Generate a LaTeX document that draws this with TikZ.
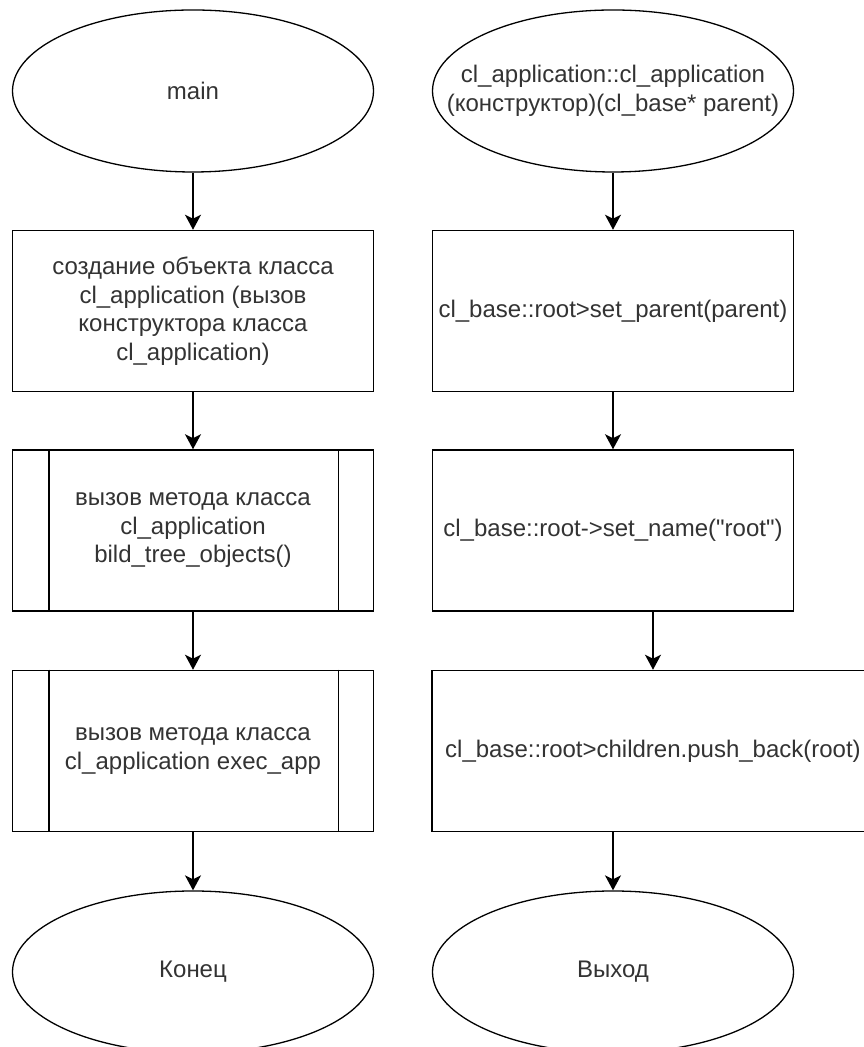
\documentclass[tikz,border=0pt]{standalone}
\usepackage{fontspec}
\newfontfamily\lsans{Liberation Sans}
\usetikzlibrary{shapes.geometric,arrows.meta}
\begin{document}
\begin{tikzpicture}[x=1pt,y=1pt,
  term/.style={ellipse, draw=black, line width=1.3pt, minimum width=361pt, minimum height=162pt, inner sep=0pt},
  proc/.style={rectangle, draw=black, line width=1.5pt, minimum width=361pt, minimum height=161pt, inner sep=0pt, align=center, font=\lsans\fontsize{24pt}{28.5pt}\selectfont, text=black!80},
  txt/.style={align=center, font=\lsans\fontsize{24pt}{28.5pt}\selectfont, text=black!80},
  subline/.style={draw=black, line width=1.5pt},
  flow/.style={-{Stealth[length=15pt,width=16pt,inset=4pt]}, line width=1.5pt}
]
\fill[white] (0,0) rectangle (863,1047);
\useasboundingbox (0,0) rectangle (863,1047);

% left column
\node[term] (main) at (193,956) {};
\node[txt] (maint) at (main.center) {main};
\node[proc] (b1) at (193,736) {создание объекта класса\\cl\_application (вызов\\конструктора класса\\cl\_application)};
\node[proc] (b2) at (193,516.5) {вызов метода класса\\cl\_application\\bild\_tree\_objects()};
\node[proc] (b3) at (193,296) {вызов метода класса\\cl\_application exec\_app};
\node[term] (end) at (193,75) {};
\node[txt] (endt) at (end.center) {Конец};

\draw[subline] ([xshift=37pt]b2.north west) -- ([xshift=37pt]b2.south west);
\draw[subline] ([xshift=-36pt]b2.north east) -- ([xshift=-36pt]b2.south east);
\draw[subline] ([xshift=37pt]b3.north west) -- ([xshift=37pt]b3.south west);
\draw[subline] ([xshift=-36pt]b3.north east) -- ([xshift=-36pt]b3.south east);

\draw[flow] (main.south) -- (b1.north);
\draw[flow] (b1.south) -- (b2.north);
\draw[flow] (b2.south) -- (b3.north);
\draw[flow] (b3.south) -- (end.north);

% right column
\node[term] (r0) at (613,956) {};
\node[txt] (r0t) at (r0.center) {cl\_application::cl\_application\\(конструктор)(cl\_base* parent)};
\node[proc] (r1) at (613,736) {cl\_base::root>set\_parent(parent)};
\node[proc] (r2) at (613,516.5) {cl\_base::root->set\_name("root")};
\node[proc, minimum width=442pt] (r3) at (653,296) {cl\_base::root>children.push\_back(root)};
\node[term] (r4) at (613,75) {};
\node[txt] (r4t) at (r4.center) {Выход};

\draw[flow] (r0.south) -- (r1.north);
\draw[flow] (r1.south) -- (r2.north);
\draw[flow] (r2.south -| r3.north) -- (r3.north);
\draw[flow] (r3.south -| r4.north) -- (r4.north);
\end{tikzpicture}
\end{document}
